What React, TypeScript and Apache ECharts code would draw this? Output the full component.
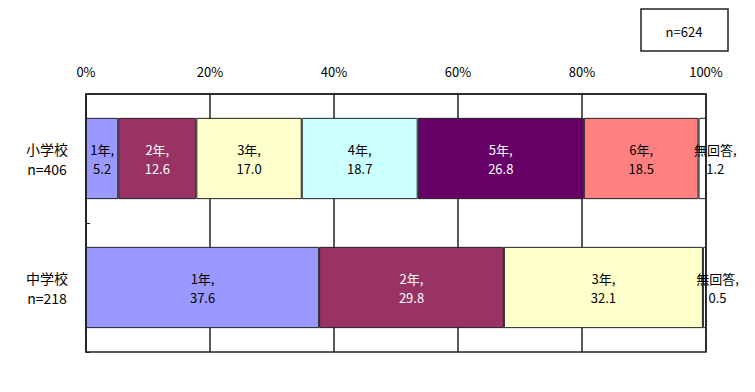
import React, { useEffect, useRef } from "react";
import * as echarts from "echarts";

const categories = ["小学校\nn=406", "中学校\nn=218"];
const seriesNames = ["1年", "2年", "3年", "4年", "5年", "6年", "無回答"];
const elementary = [5.2, 12.6, 17.0, 18.7, 26.8, 18.5, 1.2];
const juniorHigh = [37.6, 29.8, 32.1, null, null, null, 0.5];
const colors = ["#9999FF", "#993366", "#FFFFCC", "#CCFFFF", "#660066", "#FF8080", "#FFFFFF"];
const labelColors = ["#000", "#fff", "#000", "#000", "#fff", "#000", "#000"];
const totalLabel = "n=624";

const FONT = "'Noto Sans CJK JP', sans-serif";

export default function App() {
  const ref = useRef<HTMLDivElement>(null);
  useEffect(() => {
    document.body.style.margin = "0";
    const chart = echarts.init(ref.current!, null, { renderer: "svg" });
    const series = seriesNames.map((name, i) => ({
      name,
      type: "bar",
      stack: "total",
      barWidth: "63%",
      data: [elementary[i], juniorHigh[i]],
      itemStyle: { color: colors[i], borderColor: "#222", borderWidth: 1 },
      label: {
        show: true,
        position: "inside",
        offset: name === "無回答" ? [13, 0] : [0, 0],
        color: labelColors[i],
        fontFamily: FONT,
        fontSize: 13,
        lineHeight: 19,
        formatter: (p: any) => `${p.seriesName},\n${Number(p.value).toFixed(1)}`,
      },
    }));
    chart.setOption({
      animation: false,
      textStyle: { fontFamily: FONT },
      grid: { left: 86, right: 49, top: 94, bottom: 40, show: true, borderColor: "#222", borderWidth: 1.5, backgroundColor: "#fff" },
      xAxis: {
        type: "value",
        position: "top",
        min: 0,
        max: 100,
        interval: 20,
        axisLine: { show: true, lineStyle: { color: "#222", width: 1.5 } },
        axisTick: { show: false },
        splitLine: { show: true, lineStyle: { color: "#222", width: 1.5 } },
        axisLabel: { formatter: "{value}%", color: "#000", fontSize: 13, margin: 16, fontFamily: FONT },
      },
      yAxis: {
        type: "category",
        inverse: true,
        data: categories,
        axisLine: { show: true, lineStyle: { color: "#222", width: 1.5 } },
        axisTick: { show: true, inside: true, length: 4, lineStyle: { color: "#222" } },
        axisLabel: { color: "#000", fontSize: 14, lineHeight: 20, margin: 39, align: "center", fontFamily: FONT },
      },
      series,
      graphic: [
        {
          type: "rect",
          shape: { x: 641, y: 9, width: 87, height: 42 },
          style: { fill: "#fff", stroke: "#222", lineWidth: 1.5 },
        },
        {
          type: "text",
          x: 684,
          y: 31,
          style: { text: totalLabel, fill: "#000", fontSize: 13, fontFamily: FONT, align: "center", verticalAlign: "middle" },
        },
      ],
    });
    return () => chart.dispose();
  }, []);
  return <div ref={ref} style={{ width: 755, height: 392 }} />;
}
